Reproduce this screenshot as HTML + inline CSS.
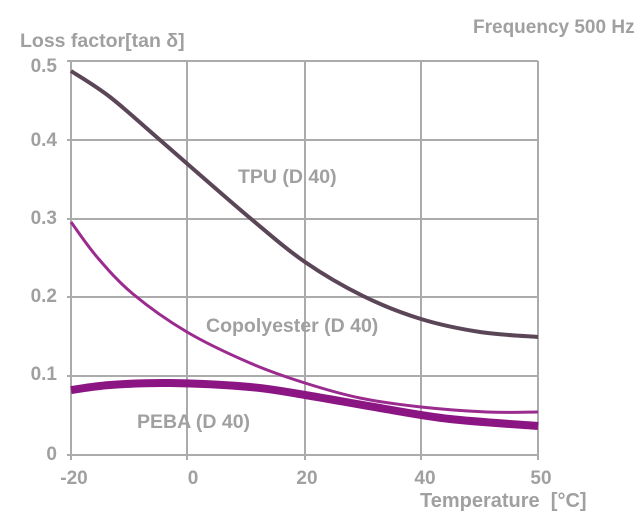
<!DOCTYPE html>
<html>
<head>
<meta charset="utf-8">
<style>
html,body{margin:0;padding:0;background:#fff;overflow:hidden;}
svg{display:block;}
text{font-family:"Liberation Sans",Arial,sans-serif;font-weight:bold;fill:#a0a0a0;}
</style>
</head>
<body>
<svg width="640" height="518" viewBox="0 0 640 518" xmlns="http://www.w3.org/2000/svg">
<rect width="640" height="518" fill="#fff"/>
<!-- grid -->
<g stroke="#ababab" stroke-width="2" fill="none">
<line x1="71" y1="61" x2="538" y2="61"/>
<line x1="67" y1="140" x2="538" y2="140"/>
<line x1="67" y1="219" x2="538" y2="219"/>
<line x1="67" y1="297" x2="538" y2="297"/>
<line x1="67" y1="376" x2="538" y2="376"/>
<line x1="67" y1="455" x2="538" y2="455"/>
<line x1="67" y1="61" x2="71" y2="61"/>
<line x1="71" y1="61" x2="71" y2="460"/>
<line x1="187" y1="61" x2="187" y2="460"/>
<line x1="305" y1="61" x2="305" y2="460"/>
<line x1="421" y1="61" x2="421" y2="460"/>
<line x1="538" y1="61" x2="538" y2="460"/>
</g>
<!-- y tick labels -->
<g font-size="19" text-anchor="end">
<text x="57" y="72">0.5</text>
<text x="57" y="146">0.4</text>
<text x="57" y="224">0.3</text>
<text x="57" y="302">0.2</text>
<text x="57" y="380">0.1</text>
<text x="57" y="460">0</text>
</g>
<!-- x tick labels -->
<g font-size="19" text-anchor="middle">
<text x="74" y="484">-20</text>
<text x="193" y="484">0</text>
<text x="307" y="484">20</text>
<text x="425" y="484">40</text>
<text x="541" y="484">50</text>
</g>
<text x="20" y="47" font-size="19.5">Loss factor[tan δ]</text>
<text x="473" y="33" font-size="19">Frequency 500 Hz</text>
<text x="420" y="507" font-size="20" xml:space="preserve">Temperature  [°C]</text>
<text x="238" y="183" font-size="19.5">TPU (D 40)</text>
<text x="206" y="332" font-size="19.5">Copolyester (D 40)</text>
<text x="137" y="428" font-size="19.5">PEBA (D 40)</text>
<!-- curves -->
<g fill="none" stroke-linejoin="round" stroke-linecap="butt">
<path stroke="#8c1584" stroke-width="8" d="M71,390 C77.5,389.2 93.5,386.2 110,385 C126.5,383.8 146.7,382.7 170,383 C193.3,383.3 227.5,385 250,387 C272.5,389 283.3,391.5 305,395 C326.7,398.5 355.8,404 380,408 C404.2,412 423.7,416 450,419 C476.3,422 523.3,424.8 538,426"/>
<path stroke="#9b2b8e" stroke-width="3" d="M71,222 C75.3,227.8 86.7,245 97,257 C107.3,269 118,281.5 133,294 C148,306.5 167.5,320.5 187,332 C206.5,343.5 230.3,354.5 250,363 C269.7,371.5 286.7,377.2 305,383 C323.3,388.8 340.7,394 360,398 C379.3,402 399.8,404.7 421,407 C442.2,409.3 467.5,411.2 487,412 C506.5,412.8 529.5,412 538,412"/>
<path stroke="#5b4658" stroke-width="4" d="M71,71 C77.5,75.3 95.2,85.5 110,97 C124.8,108.5 136.7,119.8 160,140 C183.3,160.2 225.8,197.7 250,218 C274.2,238.3 286.2,249 305,262 C323.8,275 343.7,286.5 363,296 C382.3,305.5 401.5,313 421,319 C440.5,325 460.5,329 480,332 C499.5,335 528.3,336.2 538,337"/>
</g>
</svg>
</body>
</html>
